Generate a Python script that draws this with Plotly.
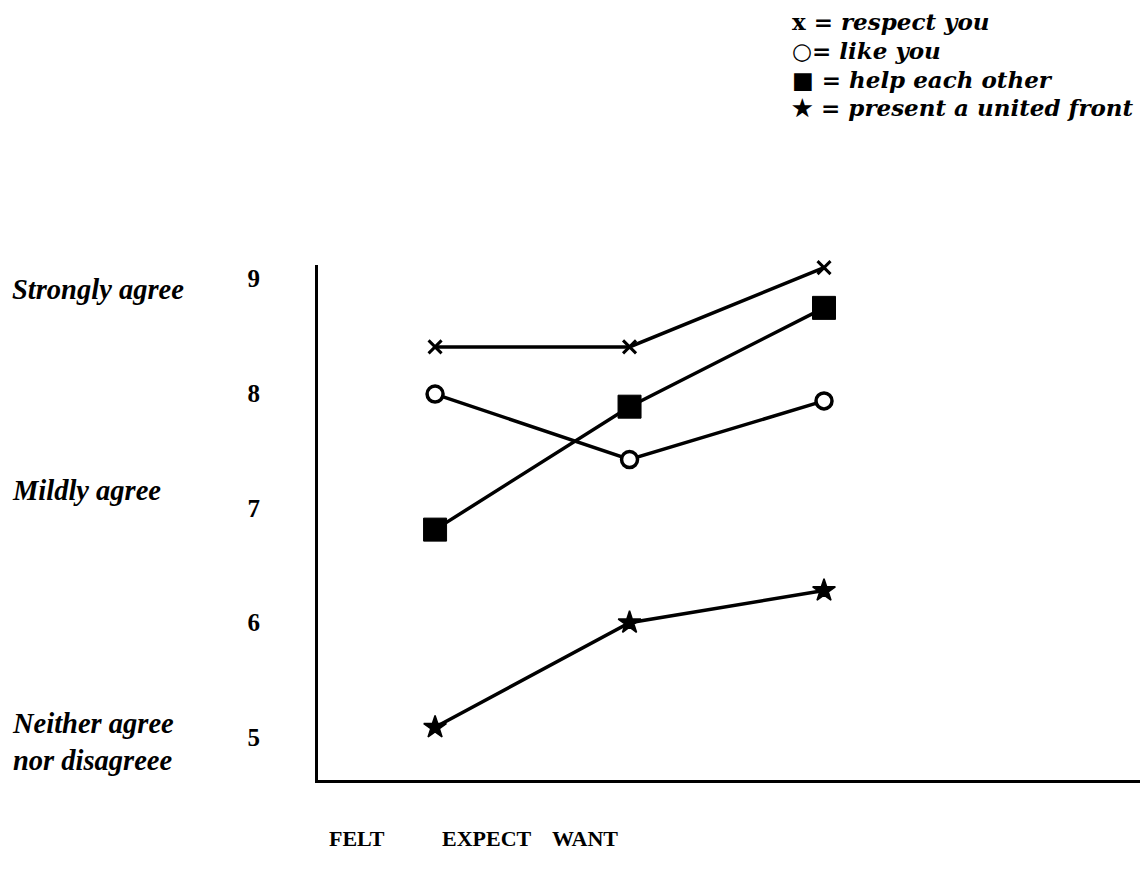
import plotly.graph_objects as go

categories = ["FELT", "EXPECT", "WANT"]
respect_you = [8.40, 8.40, 9.09]
like_you = [7.99, 7.42, 7.93]
help_each_other = [6.81, 7.88, 8.74]
united_front = [5.09, 6.00, 6.28]
y_ticks = [5, 6, 7, 8, 9]
scale_labels = ["Strongly agree", "Mildly agree", "Neither agree<br>nor disagreee"]
legend_items = [("x", " = ", "respect you"), ("○", "= ", "like you"),
                ("■", " = ", "help each other"), ("★", " = ", "present a united front")]

W, H = 1148, 874
L, R, T, B = 310, 8, 257, 102
pw, ph = W - L - R, H - T - B

def px_x(p):
    return (p - L) / pw

def px_y(p):
    return (H - B - p) / ph

xpos = list(range(len(categories)))
serif = "Liberation Serif, Times New Roman, serif"
wide_serif = "DejaVu Serif, serif"

fig = go.Figure()
line = dict(color="black", width=3.5)
fig.add_trace(go.Scatter(x=xpos, y=respect_you, mode="lines+markers", line=line,
                         marker=dict(symbol="x-thin", size=13, color="black",
                                     line=dict(color="black", width=3))))
fig.add_trace(go.Scatter(x=xpos, y=like_you, mode="lines+markers", line=line,
                         marker=dict(symbol="circle", size=16, color="white",
                                     line=dict(color="black", width=3.5))))
fig.add_trace(go.Scatter(x=xpos, y=help_each_other, mode="lines+markers", line=line,
                         marker=dict(symbol="square", size=23, color="black",
                                     line=dict(color="black", width=1))))
fig.add_trace(go.Scatter(x=xpos, y=united_front, mode="lines+markers", line=line,
                         marker=dict(symbol="star", size=17, color="black",
                                     line=dict(color="black", width=1.5))))
for tr in fig.data:
    tr.cliponaxis = False

anns = []
for txt, yy in zip(scale_labels, [281, 482, 734]):
    anns.append(dict(x=px_x(2), xref="paper", y=px_y(yy), yref="paper",
                     text="<b><i>" + txt + "</i></b>",
                     showarrow=False, xanchor="left", yanchor="middle", align="left",
                     font=dict(family=serif, size=28.5, color="black")))

label_px = [349, 479, 577]
for c, p in zip(categories, label_px):
    anns.append(dict(x=px_x(p), xref="paper", y=px_y(830), yref="paper", text="<b>" + c + "</b>",
                     showarrow=False, xanchor="center", yanchor="middle",
                     font=dict(family=serif, size=22, color="black")))

leg_y = [14, 42.5, 71, 99.5]
for (sym, eq, txt), yy in zip(legend_items, leg_y):
    anns.append(dict(x=px_x(782), xref="paper", y=px_y(yy), yref="paper",
                     text="<b>" + sym + eq + "<i>" + txt + "</i></b>",
                     showarrow=False, xanchor="left", yanchor="middle",
                     font=dict(family=wide_serif, size=23, color="black")))

fig.update_layout(
    width=W, height=H, margin=dict(l=L, r=R, t=T, b=B, autoexpand=False),
    paper_bgcolor="white", plot_bgcolor="white", showlegend=False,
    annotations=anns,
    xaxis=dict(range=[-0.602, 3.666], showgrid=False, zeroline=False, showticklabels=False,
               ticks="", showline=True, linecolor="black", linewidth=3, automargin=False),
    yaxis=dict(range=[4.631, 9.113], showgrid=False, zeroline=False, tickvals=y_ticks,
               ticktext=["<b>" + str(t) + "</b>" for t in y_ticks], ticks="", ticklabelstandoff=50,
               tickfont=dict(family=serif, size=25, color="black"),
               showline=True, linecolor="black", linewidth=3, automargin=False),
)
fig.write_html("out.html")
